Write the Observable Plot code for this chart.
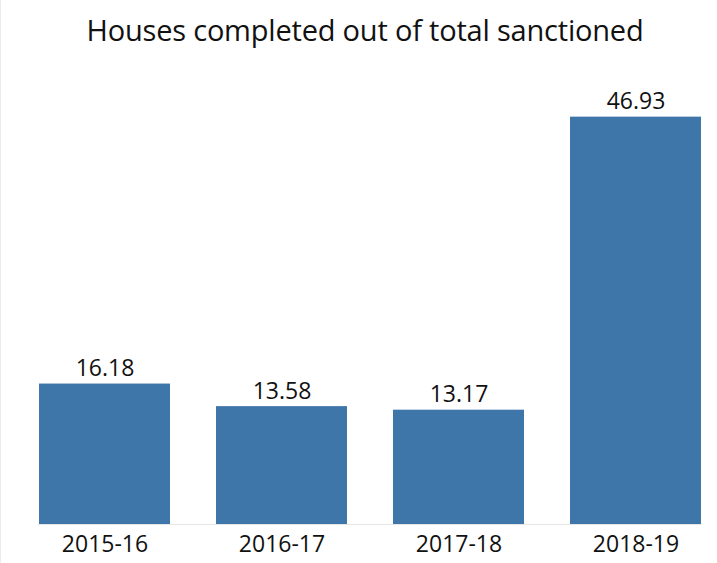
<!DOCTYPE html>
<html>
<head>
<meta charset="utf-8">
<script src="https://cdn.jsdelivr.net/npm/d3@7"></script>
<script src="https://cdn.jsdelivr.net/npm/@observablehq/plot@0.6"></script>
<style>
  html, body { margin: 0; padding: 0; background: #fff; }
  #wrap { width: 717px; height: 563px; position: relative; border-left: 1px solid #ececec; box-sizing: border-box; }
  #title { height: 60px; line-height: 60px; text-align: center; padding-left: 12px; font-family: "Open Sans", sans-serif; font-size: 29px; font-weight: 500; color: #111; letter-spacing: -0.2px; }
</style>
</head>
<body>
<div id="wrap">
  <div id="title">Houses completed out of total sanctioned</div>
  <div id="chart"></div>
</div>
<script>
const years = ["2015-16", "2016-17", "2017-18", "2018-19"];
const values = [16.18, 13.58, 13.17, 46.93];
const labels = ["16.18", "13.58", "13.17", "46.93"];

const data = years.map((y, i) => ({year: y, value: values[i], label: labels[i]}));

const chart = Plot.plot({
  width: 716,
  height: 503,
  marginLeft: 37,
  marginRight: 16,
  marginTop: 30,
  marginBottom: 39,
  style: {fontFamily: "Open Sans, sans-serif", fontSize: "23px", color: "#111", background: "#fff"},
  x: {domain: years, padding: 0.26, paddingOuter: 0, label: null},
  y: {domain: [0, 50], axis: null},
  marks: [
    Plot.ruleY([0], {stroke: "#e6e6e6", strokeWidth: 1}),
    Plot.barY(data, {x: "year", y: "value", fill: "#3e76a9"}),
    Plot.text(data, {x: "year", y: "value", text: "label", lineAnchor: "bottom", dy: -8, fontSize: 23, fontWeight: 500, fill: "#111"}),
    Plot.axisX({tickSize: 0, tickPadding: 11, fontSize: 23, fontWeight: 500, fill: "#111", label: null})
  ]
});
document.getElementById("chart").appendChild(chart);
</script>
</body>
</html>
